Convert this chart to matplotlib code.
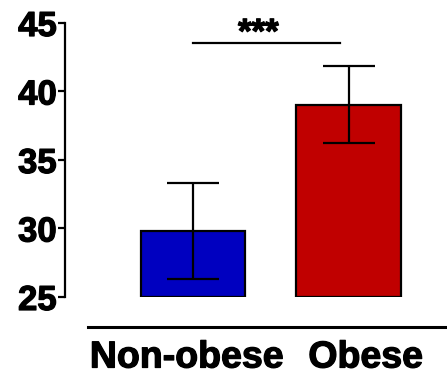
import matplotlib.pyplot as plt
import matplotlib.patheffects as pe

groups = ['Non-obese', 'Obese']
means = [29.8, 39.05]
errors = [3.5, 2.8]
colors = ['#0000C0', '#C00000']
sig_label = '***'
sig_level = 43.55

plt.rcParams['font.family'] = ['Liberation Sans', 'DejaVu Sans']
plt.rcParams['font.weight'] = 'bold'

fig = plt.figure(figsize=(4.47, 3.77), dpi=100)
ax = fig.add_axes([0.1454, 0.2122, 1 - 0.1454, 0.7268])

x = list(range(len(groups)))
ax.bar(x, [m - 25 for m in means], bottom=25, width=0.67, color=colors,
       edgecolor='black', linewidth=1.6, zorder=2)
ax.errorbar(x, means, yerr=errors, fmt='none', ecolor='black',
            elinewidth=1.6, capsize=19, capthick=1.6, zorder=3)

# heavier text, like the original graphing program
heavy = [pe.withStroke(linewidth=0.9, foreground='black')]

# significance bar
ax.plot([x[0], x[1] - 0.055], [sig_level, sig_level], color='black', lw=1.6)
ax.text(0.42, sig_level - 0.5, sig_label, ha='center', va='bottom',
        fontsize=25, fontweight='bold', path_effects=heavy)

ax.set_xlim(-0.823, 1.633)
ax.set_ylim(25, 45)
ax.set_yticks([25, 30, 35, 40, 45])

for s in ['top', 'right']:
    ax.spines[s].set_visible(False)
ax.spines['left'].set_linewidth(1.6)
ax.spines['bottom'].set_linewidth(2.2)
ax.spines['bottom'].set_position(('outward', 21.6))
ax.spines['bottom'].set_bounds(-0.675, 1.633)

ax.set_xticks([-0.04, 1.11])
ax.set_xticklabels(groups)
ax.tick_params(axis='x', length=0, pad=9, labelsize=27)
ax.tick_params(axis='y', length=5, width=1.6, pad=1, labelsize=25)
for lab in ax.get_xticklabels() + ax.get_yticklabels():
    lab.set_fontweight('bold')
    lab.set_path_effects(heavy)

fig.savefig('out.png', dpi=100)
